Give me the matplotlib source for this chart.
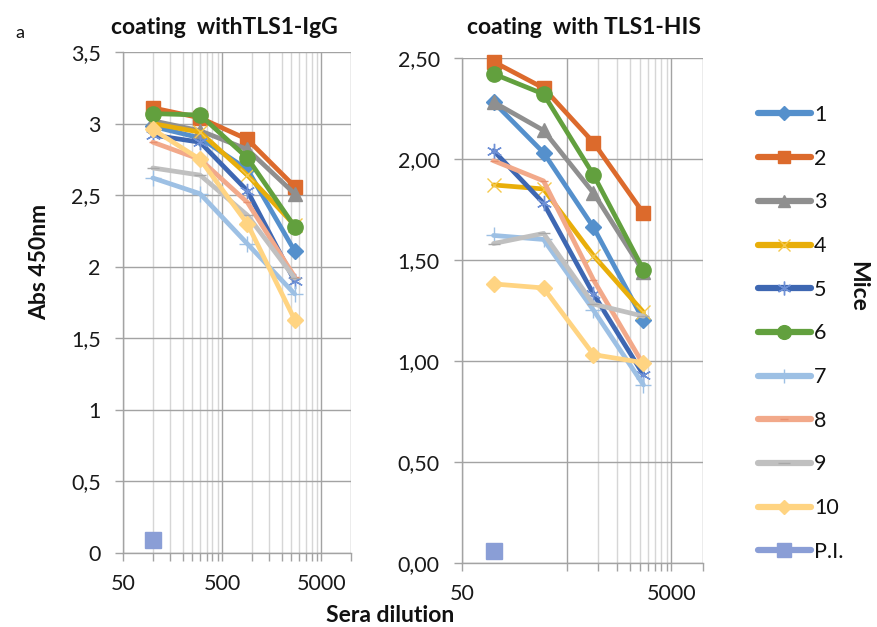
import matplotlib
matplotlib.use("Agg")
import matplotlib.pyplot as plt
from matplotlib.lines import Line2D
from matplotlib.ticker import FixedLocator, FixedFormatter, NullFormatter

plt.rcParams['font.family'] = ['Lato', 'DejaVu Sans']

# ---------------- data ----------------
dilutions = [100, 300, 900, 2700]
pi_dilution = [100]
series_names = ['1', '2', '3', '4', '5', '6', '7', '8', '9', '10']

igg_1 = [2.98, 2.90, 2.68, 2.11]
igg_2 = [3.11, 3.04, 2.89, 2.56]
igg_3 = [3.02, 2.95, 2.82, 2.51]
igg_4 = [3.00, 2.94, 2.64, 2.29]
igg_5 = [2.92, 2.87, 2.53, 1.90]
igg_6 = [3.07, 3.06, 2.76, 2.28]
igg_7 = [2.62, 2.51, 2.16, 1.81]
igg_8 = [2.87, 2.75, 2.45, 1.93]
igg_9 = [2.69, 2.64, 2.36, 1.92]
igg_10 = [2.96, 2.75, 2.30, 1.63]
igg_pi = [0.09]

his_1 = [2.28, 2.03, 1.66, 1.20]
his_2 = [2.48, 2.35, 2.08, 1.73]
his_3 = [2.28, 2.14, 1.83, 1.44]
his_4 = [1.87, 1.85, 1.52, 1.24]
his_5 = [2.04, 1.78, 1.33, 0.93]
his_6 = [2.42, 2.32, 1.92, 1.45]
his_7 = [1.62, 1.60, 1.25, 0.88]
his_8 = [1.99, 1.89, 1.40, 0.98]
his_9 = [1.58, 1.63, 1.28, 1.22]
his_10 = [1.38, 1.36, 1.03, 0.99]
his_pi = [0.06]

igg_series = [igg_1, igg_2, igg_3, igg_4, igg_5, igg_6, igg_7, igg_8, igg_9, igg_10]
his_series = [his_1, his_2, his_3, his_4, his_5, his_6, his_7, his_8, his_9, his_10]

left_yticks = [0, 0.5, 1, 1.5, 2, 2.5, 3, 3.5]
left_yticklabels = ['0', '0,5', '1', '1,5', '2', '2,5', '3', '3,5']
right_yticks = [0, 0.5, 1.0, 1.5, 2.0, 2.5]
right_yticklabels = ['0,00', '0,50', '1,00', '1,50', '2,00', '2,50']
x_major = [50, 500, 5000, 10000]
left_xlabels = ['50', '500', '5000', '']
right_xlabels = ['50', '', '5000', '']

# ---------------- styles ----------------
colors = ['#5590CC', '#DC6A2C', '#8F8F8F', '#E8AE0A', '#3E67B2',
          '#62A03E', '#9DC0E4', '#F2A98A', '#C0C0C0', '#FFD482']
pi_color = '#8A9ED6'
styles = [
    dict(marker='D', ms=8),
    dict(marker='s', ms=10),
    dict(marker='^', ms=10),
    dict(marker='x', ms=10),
    dict(marker=(6, 2, 0), ms=11),
    dict(marker='o', ms=11),
    dict(marker='+', ms=11),
    dict(marker='_', ms=6),
    dict(marker='_', ms=9),
    dict(marker='D', ms=8),
]
marker_colors = list(colors)
marker_colors[3] = '#F5C84A'
marker_colors[4] = '#6E90D6'
marker_colors[7] = '#E89070'
marker_colors[8] = '#A8A8A8'

fig = plt.figure(figsize=(8.78, 6.27), dpi=100)
axL = fig.add_axes([0.1401, 0.118, 0.2597, 0.799])
axR = fig.add_axes([0.5262, 0.1026, 0.2745, 0.8054])

tick_color = '#1A1A1A'
grid_major = '#A3A3A3'
grid_minor = '#D6D6D6'
TICK_FS = 15.5
LABEL_FS = 16.5


def setup(ax, yticks, ylabels, ymax, xlabels, minors):
    ax.set_xscale('log')
    ax.set_xlim(50, 10000)
    ax.set_ylim(0, ymax)
    ax.xaxis.set_major_locator(FixedLocator(x_major))
    ax.xaxis.set_major_formatter(FixedFormatter(xlabels))
    ax.xaxis.set_minor_locator(FixedLocator(minors))
    ax.xaxis.set_minor_formatter(NullFormatter())
    ax.set_yticks(yticks)
    ax.set_yticklabels(ylabels)
    ax.grid(True, which='major', axis='both', color=grid_major, lw=1.0)
    ax.grid(True, which='minor', axis='x', color=grid_minor, lw=1.0)
    ax.set_axisbelow(True)
    for s in ['top', 'right']:
        ax.spines[s].set_visible(False)
    for s in ['left', 'bottom']:
        ax.spines[s].set_color(grid_major)
        ax.spines[s].set_linewidth(1.0)
    ax.tick_params(axis='y', which='major', length=6, width=1, color=grid_major,
                   pad=10, labelsize=TICK_FS, labelcolor=tick_color)
    ax.tick_params(axis='x', which='both', length=6, width=1, color=grid_major,
                   pad=9, labelsize=TICK_FS, labelcolor=tick_color)
    ax.patch.set_alpha(0)


left_minors = list(range(100, 500, 50)) + list(range(1000, 5000, 500))
right_minors = list(range(1000, 5000, 500))
setup(axL, left_yticks, left_yticklabels, 3.5, left_xlabels, left_minors)
setup(axR, right_yticks, right_yticklabels, 2.5, right_xlabels, right_minors)


def draw(ax, series, pi_vals):
    for i, vals in enumerate(series):
        st = styles[i]
        ax.plot(dilutions, vals, color=colors[i], lw=3.4, marker=st['marker'],
                ms=st['ms'], mew=1.0,
                mfc=marker_colors[i], mec=marker_colors[i], solid_capstyle='round',
                solid_joinstyle='round', clip_on=False, zorder=3 + i)
    ax.plot(pi_dilution, pi_vals, color=pi_color, lw=3.4, marker='s', ms=11,
            mfc=pi_color, mec=pi_color, clip_on=False, zorder=20)


draw(axL, igg_series, igg_pi)
draw(axR, his_series, his_pi)

# ---------------- texts ----------------
fig.text(15 / 878, 1 - 33 / 627, 'a', fontsize=13, ha='left', va='center', color='#111111')
fig.text(224 / 878, 1 - 27 / 627, 'coating  withTLS1-IgG', fontsize=LABEL_FS, fontweight='bold',
         ha='center', va='center', color='#111111')
fig.text(584 / 878, 1 - 27 / 627, 'coating  with TLS1-HIS', fontsize=LABEL_FS, fontweight='bold',
         ha='center', va='center', color='#111111')
fig.text(40 / 878, 1 - 262 / 627, 'Abs 450nm', fontsize=LABEL_FS, fontweight='bold',
         ha='center', va='center', rotation=90, color='#111111')
fig.text(390 / 878, 1 - 616 / 627, 'Sera dilution', fontsize=LABEL_FS, fontweight='bold',
         ha='center', va='center', color='#111111')
fig.text(858 / 878, 1 - 286 / 627, 'Mice', fontsize=LABEL_FS, fontweight='bold',
         ha='center', va='center', rotation=270, color='#111111')

# ---------------- legend ----------------
handles = []
for i in range(10):
    st = styles[i]
    handles.append(Line2D([], [], color=colors[i], lw=4.5, marker=st['marker'],
                          ms=st['ms'] * 0.9, mfc=marker_colors[i], mec=marker_colors[i],
                          mew=1.0, solid_capstyle='round'))
handles.append(Line2D([], [], color=pi_color, lw=4.5, marker='s', ms=10,
                      mfc=pi_color, mec=pi_color, solid_capstyle='round'))
labels = series_names + ['P.I.']
leg = fig.legend(handles, labels, loc='upper left', bbox_to_anchor=(758 / 878, 1 - 105 / 627),
                 frameon=False, fontsize=TICK_FS, handlelength=2.45, handletextpad=0.15,
                 labelspacing=1.1, borderaxespad=0, borderpad=0)
for t in leg.get_texts():
    t.set_color('#111111')

fig.savefig('out.png', dpi=100)
